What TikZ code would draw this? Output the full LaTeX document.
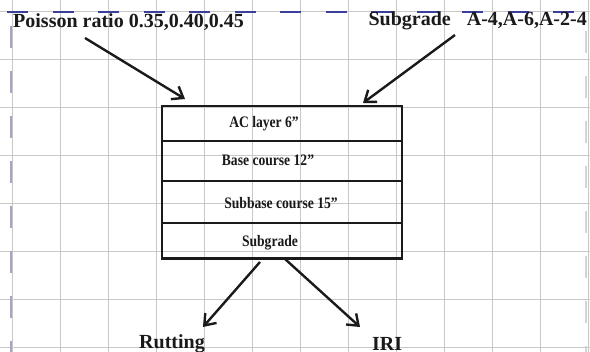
\documentclass[tikz,border=0pt]{standalone}
\usepackage{fontspec}
\setmainfont{Liberation Serif}
\usetikzlibrary{arrows.meta}
\definecolor{gridc}{HTML}{C8C8C8}
\definecolor{topdash}{HTML}{3B3F99}
\definecolor{leftdash}{HTML}{A4A4C6}
\definecolor{rightdash}{HTML}{D4D4D4}
\definecolor{ink}{HTML}{1A1A1A}
\tikzset{
  gridline/.style={draw=gridc, line width=1pt},
  layerbox/.style={draw=ink, line width=2.4pt, minimum width=240pt, inner sep=0pt, anchor=north west},
  layertext/.style={font=\fontsize{16}{18}\selectfont\bfseries, text=ink, inner sep=0pt, anchor=base, xscale=0.85},
  bigtext/.style={font=\fontsize{20}{24}\selectfont\bfseries, text=ink, inner sep=0pt},
  arr/.style={draw=ink, line width=2.4pt, -{Straight Barb[length=10pt,width=15pt,line width=2.4pt]}}
}
\begin{document}
\begin{tikzpicture}[x=1pt,y=-1pt]
\useasboundingbox (0,0) rectangle (590,352);
\clip (0,0) rectangle (590,352);
\fill[white] (0,0) rectangle (590,352);
% grid
\foreach \gx in {12,60,...,588} \draw[gridline] (\gx,0) -- (\gx,352);
\foreach \gy in {12,60,...,348} \draw[gridline] (0,\gy) -- (590,\gy);
% page-break style dashed lines
\draw[topdash, line width=1.4pt, dash pattern=on 21pt off 24.5pt] (7,12) -- (590,12);
\draw[leftdash, line width=2pt, dash pattern=on 22pt off 23pt] (11,26) -- (11,352);
\draw[rightdash, line width=2pt, dash pattern=on 22pt off 23pt] (586,31) -- (586,352);
% layers
\node[layerbox, minimum height=35pt] (ac) at (161,105) {};
\node[layerbox, minimum height=40pt] (base) at (161,140) {};
\node[layerbox, minimum height=42pt] (subbase) at (161,180) {};
\node[layerbox, minimum height=35.5pt] (sg) at (161,222) {};
\node[layertext] (tac) at (264,127.3) {AC layer 6”};
\node[layertext] (tbase) at (268,166) {Base course 12”};
\node[layertext] (tsub) at (281,208.7) {Subbase course 15”};
\node[layertext] (tsg) at (270,246.7) {Subgrade};
% labels
\node[bigtext, anchor=base west] (poisson) at (13,27.5) {Poisson ratio 0.35,0.40,0.45};
\node[bigtext, anchor=base east] (subg) at (587,26) {Subgrade\hspace*{0.8em}A-4,A-6,A-2-4};
\node[bigtext, anchor=base west] (rut) at (139,348.5) {Rutting};
\node[bigtext, anchor=base west] (iri) at (372,350.5) {IRI};
% arrow ends
\coordinate (p1) at (85,38);
\coordinate (t1) at (185,99);
\coordinate (p2) at (455,35);
\coordinate (t2) at (363,103);
\coordinate (p3) at (260,262);
\coordinate (t3) at (203,327);
\coordinate (p4) at (285,259);
\coordinate (t4) at (360,327);
\draw[arr] (p1) -- (t1);
\draw[arr] (p2) -- (t2);
\draw[arr] (p3) -- (t3);
\draw[arr] (p4) -- (t4);
\end{tikzpicture}
\end{document}
